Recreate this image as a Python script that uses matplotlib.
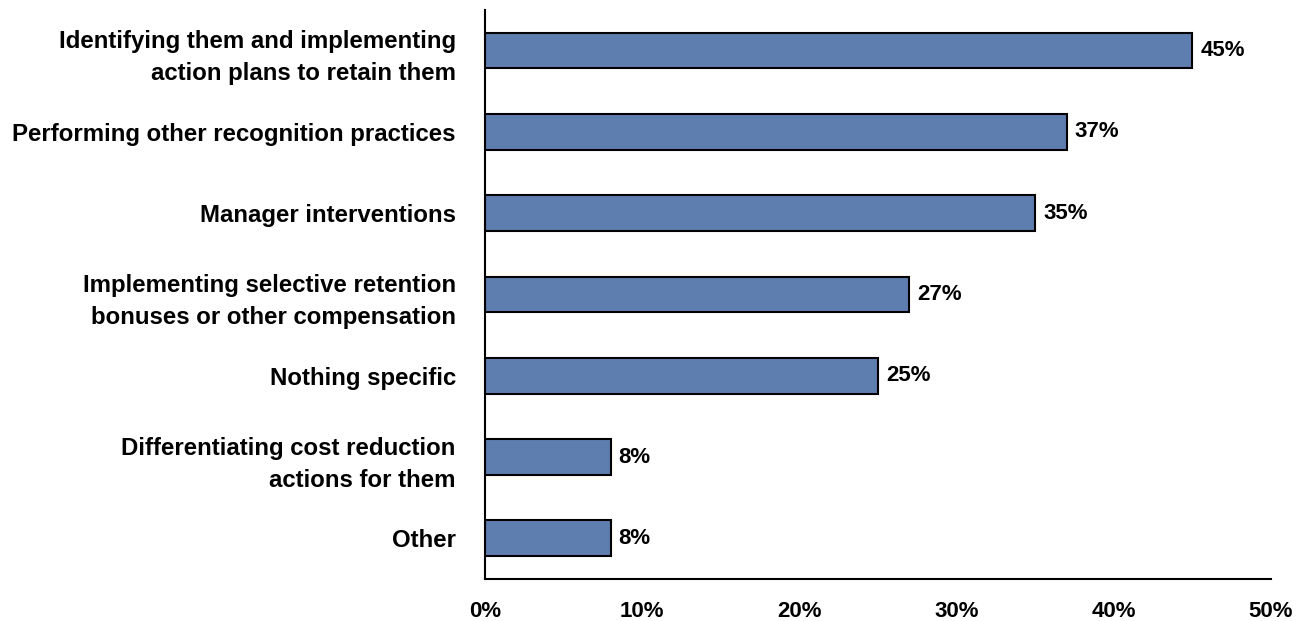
import matplotlib
matplotlib.use("Agg")
import matplotlib.pyplot as plt
from matplotlib.ticker import FuncFormatter

categories = [
    "Identifying them and implementing\naction plans to retain them",
    "Performing other recognition practices",
    "Manager interventions",
    "Implementing selective retention\nbonuses or other compensation",
    "Nothing specific",
    "Differentiating cost reduction\nactions for them",
    "Other",
]
values = [45, 37, 35, 27, 25, 8, 8]
x_ticks = [0, 10, 20, 30, 40, 50]

plt.rcParams["font.family"] = ["Liberation Sans", "DejaVu Sans"]
plt.rcParams["font.weight"] = "bold"

fig = plt.figure(figsize=(13.09, 6.21), dpi=100)
ax = fig.add_axes([0.3705, 0.0676, 0.6005, 0.9164])

pos = list(range(len(categories)))
ax.barh(pos, values, height=0.44, color="#5F7EB0", edgecolor="black", linewidth=1.5)

for y, v in zip(pos, values):
    ax.text(v + 0.5, y, f"{v}%", va="center", ha="left", fontsize=16, fontweight="bold")

ax.set_ylim(6.5, -0.5)
ax.set_xlim(0, 50)
ax.set_yticks(pos)
ax.set_yticklabels(categories, fontsize=17.3, fontweight="bold", ha="right")
for lbl in ax.get_yticklabels():
    lbl.set_linespacing(1.5)
ax.set_xticks(x_ticks)
ax.xaxis.set_major_formatter(FuncFormatter(lambda v, _: f"{v:.0f}%"))
ax.tick_params(axis="x", length=0, pad=16, labelsize=16)
for lbl in ax.get_xticklabels():
    lbl.set_fontweight("bold")
ax.tick_params(axis="y", length=0, pad=21)

for side in ("top", "right"):
    ax.spines[side].set_visible(False)
for side in ("left", "bottom"):
    ax.spines[side].set_linewidth(1.5)

fig.savefig("out.png", dpi=100)
